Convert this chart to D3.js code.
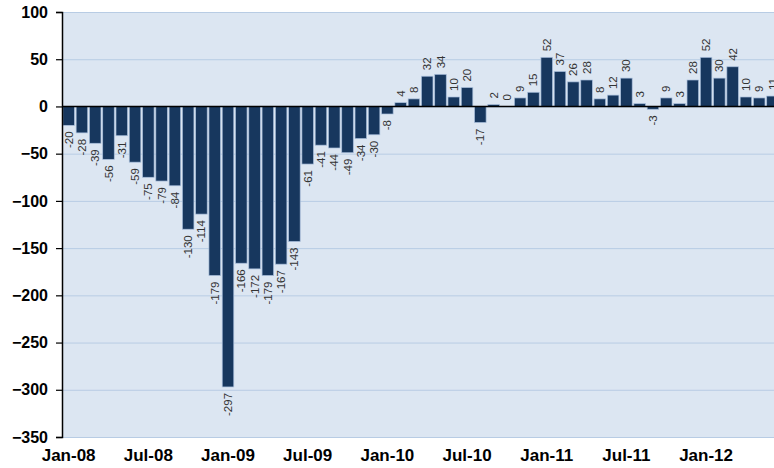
<html>
  <head>
    <meta charset="utf-8" />
    <title>Monthly change</title>
    <script src="https://d3js.org/d3.v7.min.js"></script>
    <style>
      body {
        margin: 0;
        background: #ffffff;
      }
      .vlab {
        font-family: "Liberation Sans", Arial, sans-serif;
        font-size: 11.5px;
        fill: #333333;
      }
    </style>
  </head>
  <body>
    <svg id="chart"></svg>
    <script>
      // monthly values, Jan-08 .. Jun-12
      var values = [
        -20, -28, -39, -56, -31, -59, -75, -79, -84, -130, -114, -179,
        -297, -166, -172, -179, -167, -143, -61, -41, -44, -49, -34, -30,
        -8, 4, 8, 32, 34, 10, 20, -17, 2, 0, 9, 15,
        52, 37, 26, 28, 8, 12, 30, 3, -3, 9, 3, 28,
        52, 30, 42, 10, 9, 11
      ];
      var months = d3.timeMonth.range(new Date(2008, 0, 1), new Date(2012, 6, 1));
      var xTickLabels = ["Jan-08", "Jul-08", "Jan-09", "Jul-09", "Jan-10", "Jul-10", "Jan-11", "Jul-11", "Jan-12"];
      var yTicks = [100, 50, 0, -50, -100, -150, -200, -250, -300, -350];

      var width = 774;
      var height = 468;
      var margin = { top: 12, left: 62, bottom: 31 };
      var step = 13.28;

      var fmt = d3.timeFormat("%b-%y");
      var data = months.map(function(m, i) {
        return { label: fmt(m), value: values[i] };
      });

      var svg = d3.select("#chart")
        .attr("width", width)
        .attr("height", height);

      var x = d3.scaleBand()
        .domain(data.map(function(d) { return d.label; }))
        .range([margin.left, margin.left + step * data.length])
        .paddingInner(0.13)
        .paddingOuter(0.065);

      var y = d3.scaleLinear()
        .domain([-350, 100])
        .range([height - margin.bottom, margin.top]);

      // plot background
      svg.append("rect")
        .attr("x", margin.left)
        .attr("y", y(100))
        .attr("width", width - margin.left)
        .attr("height", y(-350) - y(100))
        .attr("fill", "#dce6f2");

      // gridlines
      svg.append("g")
        .selectAll("line")
        .data(yTicks)
        .enter().append("line")
        .attr("x1", margin.left)
        .attr("x2", width)
        .attr("y1", function(d) { return y(d) + 0.5; })
        .attr("y2", function(d) { return y(d) + 0.5; })
        .attr("stroke", "#b8cce4")
        .attr("stroke-width", 1);

      // bars
      svg.append("g")
        .selectAll("rect")
        .data(data)
        .enter().append("rect")
        .attr("x", function(d) { return x(d.label); })
        .attr("width", x.bandwidth())
        .attr("y", function(d) { return y(Math.max(0, d.value)); })
        .attr("height", function(d) { return Math.abs(y(d.value) - y(0)); })
        .attr("fill", "#17375e")
        .attr("stroke", "#a9bfdc")
        .attr("stroke-width", 0.7);

      // value labels
      svg.append("g")
        .selectAll("text")
        .data(data)
        .enter().append("text")
        .attr("class", "vlab")
        .attr("transform", function(d) {
          var cx = x(d.label) + x.bandwidth() / 2;
          var cy = d.value >= 0 ? y(d.value) - 6 : y(d.value) + 6;
          return "translate(" + cx + "," + cy + ") rotate(-90)";
        })
        .attr("dy", "0.35em")
        .attr("text-anchor", function(d) { return d.value >= 0 ? "start" : "end"; })
        .text(function(d) { return d.value; });

      // zero line
      svg.append("line")
        .attr("x1", margin.left)
        .attr("x2", width)
        .attr("y1", y(0))
        .attr("y2", y(0))
        .attr("stroke", "#000")
        .attr("stroke-width", 1.5);

      // y axis
      var yAxis = d3.axisLeft(y)
        .tickValues(yTicks)
        .tickSize(6)
        .tickPadding(8);

      var gy = svg.append("g")
        .attr("transform", "translate(" + margin.left + ",0)")
        .call(yAxis);
      gy.select(".domain").attr("stroke", "#000").attr("stroke-width", 1.5);
      gy.selectAll(".tick line").attr("stroke", "#000").attr("stroke-width", 1.2);
      gy.selectAll(".tick text")
        .style("font-family", "'Liberation Sans', Arial, sans-serif")
        .style("font-weight", "bold")
        .style("font-size", "16px")
        .style("fill", "#000");

      // x labels
      var xAxis = d3.axisBottom(x)
        .tickValues(xTickLabels)
        .tickSize(0)
        .tickPadding(12);

      var gx = svg.append("g")
        .attr("transform", "translate(0," + y(-350) + ")")
        .call(xAxis);
      gx.select(".domain").remove();
      gx.selectAll(".tick text")
        .style("font-family", "'Liberation Sans Narrow', 'Liberation Sans', Arial, sans-serif")
        .style("font-weight", "bold")
        .style("font-size", "17px")
        .style("fill", "#000");
    </script>
  </body>
</html>
